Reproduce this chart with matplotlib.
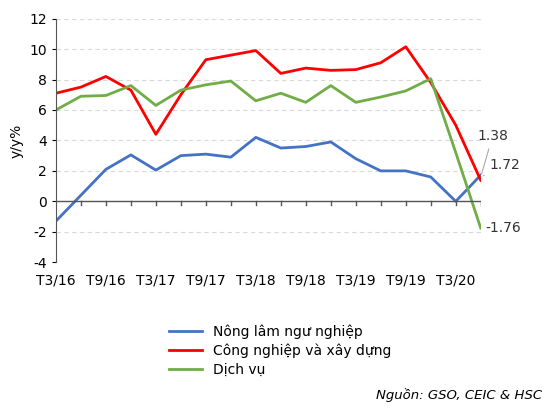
import matplotlib.pyplot as plt

plt.rcParams["axes.unicode_minus"] = False

labels = ["T3/16", "T9/16", "T3/17", "T9/17", "T3/18", "T9/18", "T3/19", "T9/19", "T3/20"]
nong = [-1.3, 0.4, 2.1, 3.05, 2.05, 3.0, 3.1, 2.9, 4.2, 3.5, 3.6, 3.9, 2.8, 2.0, 2.0, 1.6, 0.0, 1.72]
cong = [7.1, 7.5, 8.2, 7.3, 4.4, 7.0, 9.3, 9.6, 9.9, 8.4, 8.75, 8.6, 8.65, 9.1, 10.15, 7.8, 5.0, 1.38]
dv = [6.0, 6.9, 6.95, 7.6, 6.3, 7.3, 7.65, 7.9, 6.6, 7.1, 6.5, 7.6, 6.5, 6.85, 7.25, 8.05, 3.2, -1.76]
x = list(range(len(nong)))

fig = plt.figure(figsize=(5.59, 4.13), dpi=100)
ax = fig.add_axes([0.1, 0.365, 0.76, 0.59])
ax.plot(x, nong, color="#4472C4", lw=2, label="Nông lâm ngư nghiệp")
ax.plot(x, cong, color="#FF0000", lw=2, label="Công nghiệp và xây dựng")
ax.plot(x, dv, color="#70AD47", lw=2, label="Dịch vụ")

ax.set_xlim(0, 17)
ax.set_ylim(-4, 12)
ax.set_yticks(range(-4, 13, 2))
ax.set_xticks(range(0, 17, 2))
ax.set_xticklabels(labels)
ax.tick_params(axis="x", length=0, labelsize=10, pad=8)
ax.tick_params(axis="y", labelsize=10, length=3)
ax.yaxis.grid(True, ls=(0, (4, 3)), color="#d9d9d9", lw=0.8)
ax.set_axisbelow(True)
for s in ["top", "right", "bottom"]:
    ax.spines[s].set_visible(False)
ax.spines["left"].set_color("#555555")
ax.axhline(0, color="#555555", lw=1)
for t in range(1, 18):
    ax.plot([t, t], [0, -0.25], color="#555555", lw=1)
ax.set_ylabel("y/y%", fontsize=10)

ax.annotate("1.38", xy=(17, 1.6), xytext=(16.85, 4.0), fontsize=10, color="#333333",
            arrowprops=dict(arrowstyle="-", color="#aaaaaa", lw=0.8), annotation_clip=False)
ax.annotate("1.72", xy=(17, 1.6), xytext=(17.35, 2.1), fontsize=10, color="#333333",
            arrowprops=dict(arrowstyle="-", color="#aaaaaa", lw=0.8), annotation_clip=False)
ax.text(17.2, -1.76, "-1.76", fontsize=10, color="#333333", va="center")

fig.legend(loc="upper left", bbox_to_anchor=(0.28, 0.245), frameon=False, fontsize=10,
           handlelength=2.4, labelspacing=0.35)
fig.text(0.97, 0.035, "Nguồn: GSO, CEIC & HSC", ha="right", style="italic", fontsize=9.5)
fig.savefig("out.png", dpi=100)
